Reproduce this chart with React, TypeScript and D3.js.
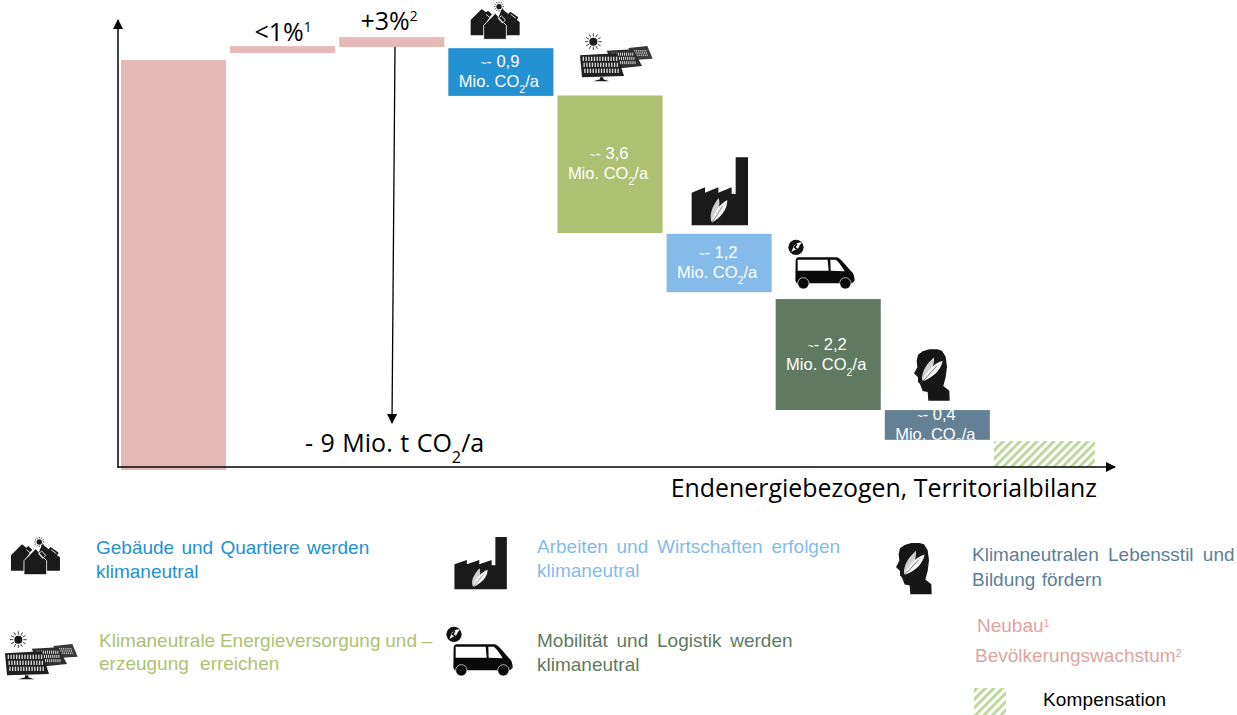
import React from "react";
import * as d3 from "d3";

const categories = ["Basis", "Neubau", "Bevölkerung", "Gebäude", "Energie", "Wirtschaft", "Mobilität", "Lebensstil", "Kompensation"];
const barTop = [100, 103.4, 105.6, 102.9, 91.3, 57.4, 41.4, 14.2, 6.6];
const barBottom = [-0.5, 101.7, 103.2, 91.2, 57.6, 43.1, 14.2, 6.9, 0.3];
const barColors = ["#e6b8b7", "#e6b8b7", "#e6b8b7", "#2491d3", "#aec172", "#86bbe9", "#607a62", "#648095", "url(#hatch)"];
const barValues = ["", "", "", "0,9", "3,6", "1,2", "2,2", "0,4", ""];
const unitLabel = "Mio. CO";

const sans = "'Liberation Sans', Arial, sans-serif";
const open = "'Open Sans', sans-serif";

const x = d3.scaleBand<string>().domain(categories).range([121, 1099]).paddingInner(4 / 109).paddingOuter(0);
const y = d3.scaleLinear().domain([0, 100]).range([468, 60]);
const plotRight = 1095;

const Z = ({ dx, dy, ox, oy, sx = 1, sy = 1, children }: any) => (
  <g transform={`translate(${ox + dx},${oy + dy}) scale(${sx / 3},${sy / 3})`}>{children}</g>
);

const Sun = ({ cx, cy, r, ray }: any) => {
  const angles = d3.range(0, 360, 30);
  return (
    <g>
      <circle cx={cx} cy={cy} r={r} fill="#1a1a1a" />
      {angles.map((a) => {
        const t = (a * Math.PI) / 180;
        return (
          <line key={a} x1={cx + (r + 3) * Math.cos(t)} y1={cy + (r + 3) * Math.sin(t)} x2={cx + ray * Math.cos(t)} y2={cy + ray * Math.sin(t)} stroke="#1a1a1a" strokeWidth={2.5} />
        );
      })}
    </g>
  );
};

const Houses = ({ dx = 0, dy = 0 }: any) => (
  <Z ox={440} oy={0} dx={dx} dy={dy}>
    <Sun cx={177} cy={20} r={8} ray={15} />
    <path d="M92 60 L125 27 L138 37 L144 32 L156 43 L150 50 L132 78 L132 106 L92 106 Z" fill="#1a1a1a" />
    <path d="M186 26 L205 42 L211 35 L235 52 L230 60 L239 66 L239 106 L197 106 L197 75 L176 50 Z" fill="#1a1a1a" />
    <path d="M131 76 L166 40 L178 53 L184 47 L196 60 L190 67 L199 76 L199 118 L131 118 Z" fill="#1a1a1a" stroke="#fff" strokeWidth={2.5} />
    <path d="M175 54 L189 69" stroke="#ddd" strokeWidth={5} />
    <path d="M212 43 L228 55" stroke="#ddd" strokeWidth={3} />
    <path d="M138 43 L150 53" stroke="#ddd" strokeWidth={3} />
  </Z>
);

const panelGrid = (px: number, py: number, w: number, h: number, sk: number, cols: number, rows: number) => {
  const out = [] as React.ReactNode[];
  const c = d3.range(cols), r = d3.range(rows);
  r.forEach((ri) =>
    c.forEach((ci) => {
      const cw = (w - 10) / cols, ch = (h - 8) / rows;
      const x0 = px + 5 + ci * cw + ((ri * ch) / h) * sk, y0 = py + 4 + ri * ch;
      out.push(<rect key={`${ri}-${ci}`} x={x0} y={y0} width={cw * 0.5} height={ch * 0.72} fill="#d4d4d4" />);
    })
  );
  return out;
};

const Solar = ({ dx = 0, dy = 0 }: any) => (
  <Z ox={440} oy={0} dx={dx} dy={dy}>
    <Sun cx={460} cy={125} r={12} ray={25} />
    <path d="M565 144 L622 138 L638 176 L580 180 Z" fill="#3a3a3a" />
    {panelGrid(572, 146, 55, 28, 8, 8, 3)}
    <path d="M500 152 L580 148 L606 198 L526 206 Z" fill="#2e2e2e" />
    {panelGrid(510, 154, 78, 46, 12, 11, 3)}
    <path d="M420 166 L530 160 L552 228 L426 232 Z" fill="#1f1f1f" />
    {panelGrid(423, 166, 118, 62, 8, 13, 3)}
    <path d="M480 232 L490 232 L490 238 L508 244 L460 244 L480 238 Z" fill="#1a1a1a" />
  </Z>
);

const Leaves = ({ cx, cy }: any) => (
  <g transform={`translate(${cx},${cy})`} fill="#f4f4f4">
    <path d="M-18 40 C-26 12 -10 -14 4 -32 C10 -10 4 14 -18 40 Z" fill="#cfcfcf" />
    <path d="M-16 42 C-14 14 6 -14 30 -26 C30 4 10 26 -16 42 Z" />
    <path d="M-16 42 L16 -8" stroke="#1a1a1a" strokeWidth={1.5} />
  </g>
);

const Factory = ({ dx = 0, dy = 0, sx = 1, sy = 1 }: any) => (
  <Z ox={680} oy={150} dx={dx} dy={dy} sx={sx} sy={sy}>
    <path d="M35 128 L75 112 L75 128 L115 112 L115 128 L155 112 L155 132 L167 132 L167 22 L204 22 L204 226 L35 226 Z" fill="#1a1a1a" />
    <Leaves cx={112} cy={176} />
  </Z>
);

const Van = ({ dx = 0, dy = 0 }: any) => (
  <Z ox={680} oy={150} dx={dx} dy={dy}>
    <circle cx={348} cy={292} r={23} fill="#111" />
    <path d="M334 306 L340 292 C342 284 352 276 366 278 L360 284 L354 296 L344 300 Z" fill="#fff" />
    <path d="M350 282 L344 292 L352 298" stroke="#111" strokeWidth={5} fill="none" />
    <path d="M356 322 L470 322 C482 324 500 350 512 362 C520 368 524 378 524 392 L516 400 L350 400 L346 392 L347 333 C347 326 350 322 356 322 Z" fill="#0a0a0a" />
    <path d="M353 329 L443 329 L446 362 L353 362 Z" fill="#fff" />
    <path d="M451 329 L467 329 C475 334 488 352 494 364 L452 362 Z" fill="#fff" />
    <circle cx={370} cy={400} r={17} fill="#0a0a0a" stroke="#fff" strokeWidth={2} />
    <circle cx={496} cy={400} r={17} fill="#0a0a0a" stroke="#fff" strokeWidth={2} />
  </Z>
);

const Head = ({ dx = 0, dy = 0 }: any) => (
  <Z ox={880} oy={340} dx={dx} dy={dy}>
    <path d="M114 44 L128 34 L148 28 L172 28 L186 32 L197 50 L201 80 L197 112 L190 138 L208 152 L209 182 L145 182 L143 156 L128 153 L120 132 L114 126 L114 112 L102 100 L112 82 L110 62 Z" fill="#161616" />
    <g transform="translate(152,84) rotate(10) scale(1.05)"><Leaves cx={0} cy={0} /></g>
  </Z>
);

const Sub = ({ children, size }: any) => (
  <tspan baselineShift="sub" fontSize={size * 0.65}>{children}</tspan>
);
const Sup = ({ children, size }: any) => (
  <tspan baselineShift="super" fontSize={size * 0.55}>{children}</tspan>
);

const legendLines = [
  { t: "Gebäude und Quartiere werden", x: 96, y: 554, c: "#2491d3", ws: 2 },
  { t: "klimaneutral", x: 96, y: 578, c: "#2491d3", ws: 0 },
  { t: "Arbeiten und Wirtschaften erfolgen", x: 537, y: 553, c: "#86bbe9", ws: 3.5 },
  { t: "klimaneutral", x: 537, y: 577, c: "#86bbe9", ws: 0 },
  { t: "Klimaneutralen Lebensstil und", x: 972, y: 561, c: "#5c7f99", ws: 4 },
  { t: "Bildung fördern", x: 972, y: 586, c: "#5c7f99", ws: 1 },
  { t: "Klimaneutrale Energieversorgung und –", x: 99, y: 647, c: "#aec172", ws: -0.5 },
  { t: "erzeugung erreichen", x: 99, y: 670, c: "#aec172", ws: 6 },
  { t: "Mobilität und Logistik werden", x: 537, y: 647, c: "#607a62", ws: 3.5 },
  { t: "klimaneutral", x: 537, y: 671, c: "#607a62", ws: 0 },
];

export default function App() {
  const last = categories.length - 2;
  return (
    <svg width={1237} height={715} style={{ position: "absolute", left: 0, top: 0, background: "#fff" }}>
      <defs>
        <pattern id="hatch" width={6} height={6} patternUnits="userSpaceOnUse" patternTransform="rotate(45)">
          <rect width={2.8} height={6} fill="#bcd695" />
        </pattern>
        <clipPath id="lastBar">
          <rect x={x(categories[last])} y={y(barTop[last])} width={x.bandwidth()} height={y(barBottom[last]) - y(barTop[last])} />
        </clipPath>
        <marker id="head" markerWidth={12} markerHeight={12} refX={9} refY={5} orient="auto" markerUnits="userSpaceOnUse">
          <path d="M0 0 L10 5 L0 10 Z" fill="#000" />
        </marker>
      </defs>

      {categories.map((c, i) => (
        <rect key={c} x={x(c)} y={y(barTop[i])} width={Math.min(x.bandwidth(), plotRight - x(c)!)} height={y(barBottom[i]) - y(barTop[i])} fill={barColors[i]} />
      ))}

      {categories.map((c, i) => {
        if (!barValues[i]) return null;
        const cx = x(c)! + x.bandwidth() / 2;
        const cy = (y(barTop[i]) + y(barBottom[i])) / 2;
        return (
          <g key={c} clipPath={i === last ? "url(#lastBar)" : undefined} fill="#fff" fontFamily={sans} fontSize={16.5} textAnchor="middle">
            <text x={cx - 1} y={cy - 5}><tspan fontSize={10}>~</tspan>- {barValues[i]}</text>
            <text x={cx - 2} y={cy + 15}>{unitLabel}<Sub size={16.5}>2</Sub>/a</text>
          </g>
        );
      })}

      <line x1={118} y1={468} x2={118} y2={20} stroke="#000" strokeWidth={1.5} markerEnd="url(#head)" />
      <line x1={118} y1={467} x2={1115} y2={467} stroke="#000" strokeWidth={1.5} markerEnd="url(#head)" />
      <line x1={395} y1={47} x2={392} y2={423} stroke="#000" strokeWidth={1.3} markerEnd="url(#head)" />

      <text x={283} y={41} textAnchor="middle" fontFamily={open} fontSize={25}>&lt;1%<Sup size={25}>1</Sup></text>
      <text x={389} y={30} textAnchor="middle" fontFamily={open} fontSize={25}>+3%<Sup size={25}>2</Sup></text>
      <text x={305} y={452} fontFamily={open} fontSize={25} wordSpacing={1}>- 9 Mio. t CO<Sub size={25}>2</Sub>/a</text>
      <text x={1097} y={497} textAnchor="end" fontFamily={open} fontSize={24.9}>Endenergiebezogen, Territorialbilanz</text>

      <Houses />
      <Solar />
      <Factory />
      <Van />
      <Head />

      <Houses dx={-459.7} dy={535.3} />
      <Solar dx={-575} dy={598} />
      <Factory dx={-236.4} dy={381.5} sx={0.93} sy={0.765} />
      <Van dx={-342} dy={387} />
      <Head dx={-18} dy={193.6} />

      <g fontFamily={sans} fontSize={19}>
        {legendLines.map((l) => (
          <text key={l.t + l.x} x={l.x} y={l.y} fill={l.c} wordSpacing={l.ws}>{l.t}</text>
        ))}
        <text x={977} y={632} fill="#e0a3a2">Neubau<Sup size={19}>1</Sup></text>
        <text x={975} y={662} fill="#e0a3a2">Bevölkerungswachstum<Sup size={19}>2</Sup></text>
        <text x={1043} y={706} fill="#000" letterSpacing={0.15}>Kompensation</text>
      </g>
      <rect x={974} y={688} width={32} height={27} fill="url(#hatch)" />
    </svg>
  );
}
